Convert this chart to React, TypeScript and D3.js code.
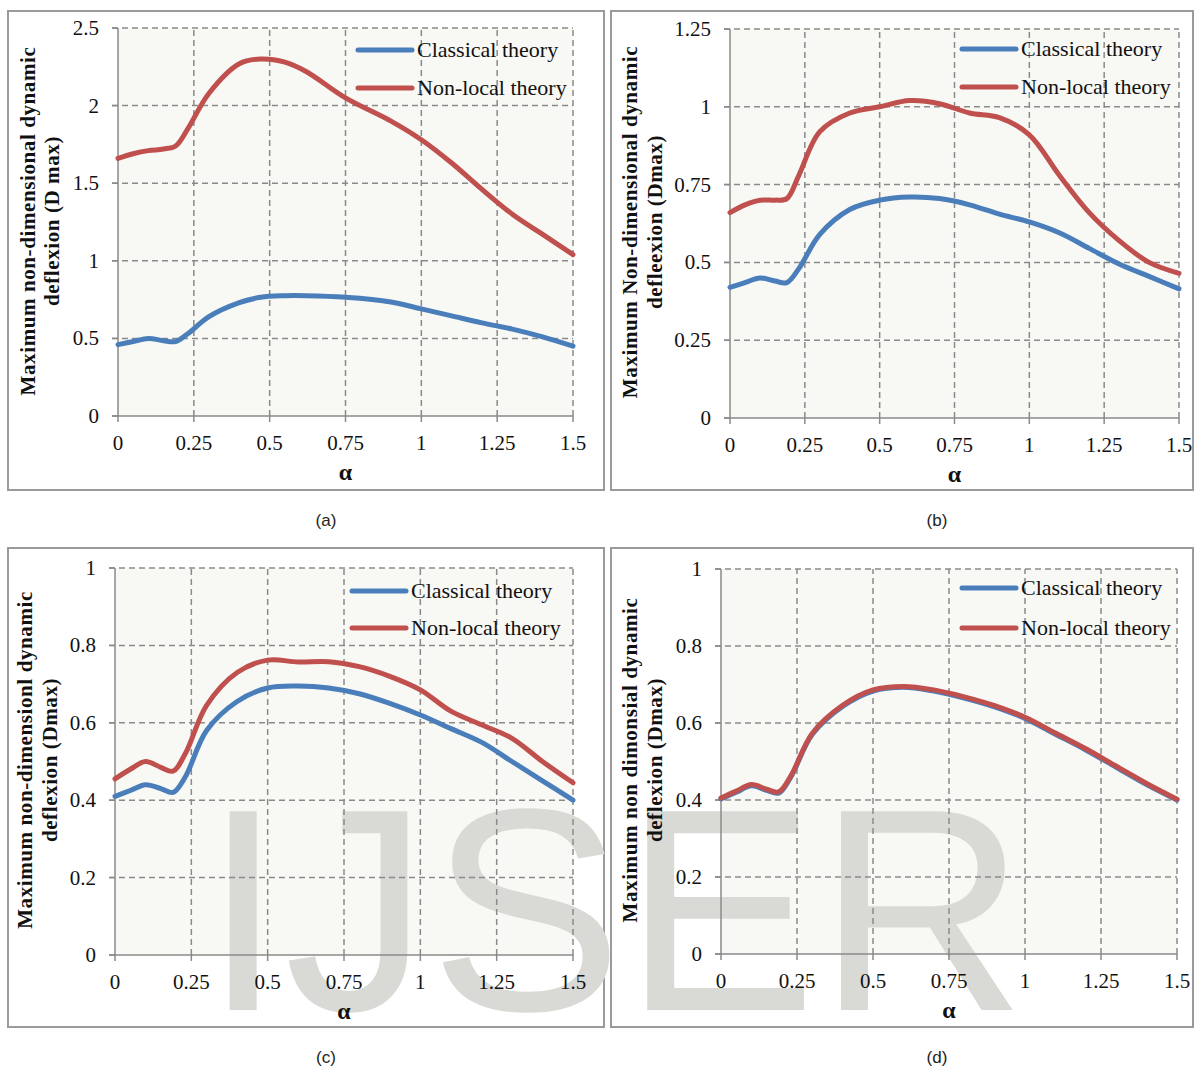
import React from "react";
import * as d3 from "d3";

// ---------------- DATA ----------------
const alphaA = [0, 0.05, 0.1, 0.15, 0.19, 0.23, 0.3, 0.4, 0.47, 0.55, 0.62, 0.75, 0.9, 1.0, 1.1, 1.2, 1.3, 1.4, 1.5];
const classicalA = [0.46, 0.48, 0.5, 0.485, 0.48, 0.53, 0.64, 0.73, 0.765, 0.775, 0.775, 0.765, 0.735, 0.69, 0.645, 0.6, 0.56, 0.51, 0.45];
const nonlocalA = [1.66, 1.69, 1.71, 1.72, 1.74, 1.85, 2.08, 2.27, 2.3, 2.28, 2.22, 2.05, 1.9, 1.78, 1.63, 1.46, 1.3, 1.17, 1.04];

const alphaB = [0, 0.05, 0.1, 0.15, 0.19, 0.23, 0.3, 0.4, 0.5, 0.6, 0.7, 0.8, 0.9, 1.0, 1.1, 1.2, 1.3, 1.4, 1.5];
const classicalB = [0.42, 0.435, 0.45, 0.44, 0.435, 0.48, 0.59, 0.67, 0.70, 0.71, 0.705, 0.685, 0.655, 0.63, 0.595, 0.545, 0.495, 0.455, 0.415];
const nonlocalB = [0.66, 0.685, 0.70, 0.7, 0.705, 0.78, 0.92, 0.98, 1.0, 1.02, 1.01, 0.98, 0.965, 0.91, 0.78, 0.66, 0.57, 0.5, 0.465];

const alphaC = [0, 0.05, 0.1, 0.15, 0.19, 0.23, 0.3, 0.4, 0.5, 0.6, 0.7, 0.8, 0.9, 1.0, 1.1, 1.2, 1.3, 1.4, 1.5];
const classicalC = [0.41, 0.425, 0.44, 0.43, 0.42, 0.46, 0.58, 0.655, 0.69, 0.695, 0.69, 0.675, 0.65, 0.62, 0.585, 0.55, 0.5, 0.45, 0.40];
const nonlocalC = [0.455, 0.48, 0.50, 0.485, 0.475, 0.52, 0.645, 0.73, 0.762, 0.757, 0.758, 0.745, 0.72, 0.685, 0.63, 0.595, 0.56, 0.5, 0.445];

const alphaD = [0, 0.05, 0.1, 0.15, 0.19, 0.23, 0.3, 0.4, 0.5, 0.6, 0.7, 0.8, 0.9, 1.0, 1.1, 1.2, 1.3, 1.4, 1.5];
const classicalD = [0.403, 0.42, 0.437, 0.425, 0.418, 0.46, 0.57, 0.643, 0.683, 0.693, 0.683, 0.665, 0.642, 0.612, 0.571, 0.53, 0.485, 0.44, 0.40];
const nonlocalD = [0.405, 0.423, 0.44, 0.428, 0.421, 0.463, 0.573, 0.646, 0.686, 0.695, 0.686, 0.668, 0.645, 0.615, 0.574, 0.533, 0.488, 0.443, 0.402];

const xTicks = [0, 0.25, 0.5, 0.75, 1, 1.25, 1.5];
const xTickLabels = ["0", "0.25", "0.5", "0.75", "1", "1.25", "1.5"];
const yTicksA = [0, 0.5, 1, 1.5, 2, 2.5];
const yTickLabelsA = ["0", "0.5", "1", "1.5", "2", "2.5"];
const yTicksB = [0, 0.25, 0.5, 0.75, 1, 1.25];
const yTickLabelsB = ["0", "0.25", "0.5", "0.75", "1", "1.25"];
const yTicksCD = [0, 0.2, 0.4, 0.6, 0.8, 1];
const yTickLabelsCD = ["0", "0.2", "0.4", "0.6", "0.8", "1"];

const seriesNames = ["Classical theory", "Non-local theory"];
const yTitlesA = ["Maximum  non-dimensional dynamic", "deflexion  (D max)"];
const yTitlesB = ["Maximum Non-dimensional dynamic", "defleexion  (Dmax)"];
const yTitlesC = ["Maximum non-dimensionl dynamic", "deflexion (Dmax)"];
const yTitlesD = ["Maximum non dimonsial dynamic", "deflexion (Dmax)"];
const captions = ["(a)", "(b)", "(c)", "(d)"];
const watermark = "IJSER";

// ---------------- STYLE ----------------
const BLUE = "#4a7ebb";
const RED = "#c0504d";
const GRID = "#8a8a8a";
const SERIF = "'Liberation Serif', 'Times New Roman', serif";
const SANS = "'Liberation Sans', Arial, sans-serif";

type Panel = {
  box: [number, number, number, number];
  plot: { x0: number; x1: number; y0: number; y1: number };
  yMax: number;
  yTicks: number[];
  yLabels: string[];
  alpha: number[];
  classical: number[];
  nonlocal: number[];
  yTitles: string[];
  titleX: [number, number];
  titleCY: number;
  legend: { x: number; y1: number; y2: number };
  caption: string;
  captionPos: [number, number];
};

const panels: Panel[] = [
  {
    box: [8, 11, 604, 490],
    plot: { x0: 118, x1: 573, y0: 416, y1: 28 },
    yMax: 2.5, yTicks: yTicksA, yLabels: yTickLabelsA,
    alpha: alphaA, classical: classicalA, nonlocal: nonlocalA,
    yTitles: yTitlesA, titleX: [28, 52], titleCY: 221,
    legend: { x: 358, y1: 50, y2: 88 },
    caption: captions[0], captionPos: [326, 526],
  },
  {
    box: [611, 11, 1193, 490],
    plot: { x0: 730, x1: 1179, y0: 418, y1: 29 },
    yMax: 1.25, yTicks: yTicksB, yLabels: yTickLabelsB,
    alpha: alphaB, classical: classicalB, nonlocal: nonlocalB,
    yTitles: yTitlesB, titleX: [630, 655], titleCY: 222,
    legend: { x: 962, y1: 49, y2: 87 },
    caption: captions[1], captionPos: [937, 526],
  },
  {
    box: [8, 548, 604, 1027],
    plot: { x0: 115, x1: 573, y0: 955, y1: 568 },
    yMax: 1, yTicks: yTicksCD, yLabels: yTickLabelsCD,
    alpha: alphaC, classical: classicalC, nonlocal: nonlocalC,
    yTitles: yTitlesC, titleX: [25, 50], titleCY: 760,
    legend: { x: 352, y1: 591, y2: 628 },
    caption: captions[2], captionPos: [326, 1063],
  },
  {
    box: [611, 548, 1193, 1027],
    plot: { x0: 721, x1: 1177, y0: 954, y1: 569 },
    yMax: 1, yTicks: yTicksCD, yLabels: yTickLabelsCD,
    alpha: alphaD, classical: classicalD, nonlocal: nonlocalD,
    yTitles: yTitlesD, titleX: [630, 655], titleCY: 760,
    legend: { x: 962, y1: 588, y2: 628 },
    caption: captions[3], captionPos: [937, 1063],
  },
];

function PanelBase({ p }: { p: Panel }) {
  const [bx0, by0, bx1, by1] = p.box;
  return (
    <g>
      <rect x={bx0} y={by0} width={bx1 - bx0} height={by1 - by0} fill="#fff" stroke="#9a9a9a" strokeWidth={2} />
      <rect x={p.plot.x0} y={p.plot.y1} width={p.plot.x1 - p.plot.x0} height={p.plot.y0 - p.plot.y1} fill="#f8f8f4" />
      <text x={p.captionPos[0]} y={p.captionPos[1]} fontFamily={SANS} fontSize={17} textAnchor="middle" fill="#222">{p.caption}</text>
    </g>
  );
}

function PanelTop({ p }: { p: Panel }) {
  const x = d3.scaleLinear().domain([0, 1.5]).range([p.plot.x0, p.plot.x1]);
  const y = d3.scaleLinear().domain([0, p.yMax]).range([p.plot.y0, p.plot.y1]);
  const line = d3
    .line<[number, number]>()
    .x((d) => x(d[0]))
    .y((d) => y(d[1]))
    .curve(d3.curveCatmullRom.alpha(0.5));
  const cPts = p.alpha.map((a, i) => [a, p.classical[i]] as [number, number]);
  const nPts = p.alpha.map((a, i) => [a, p.nonlocal[i]] as [number, number]);
  return (
    <g>
      {/* grid */}
      {p.yTicks.slice(1).map((t) => (
        <line key={"gy" + t} x1={p.plot.x0 - 6} x2={p.plot.x1} y1={y(t)} y2={y(t)} stroke={GRID} strokeWidth={1.5} strokeDasharray="6,4" />
      ))}
      {xTicks.slice(1).map((t) => (
        <line key={"gx" + t} x1={x(t)} x2={x(t)} y1={p.plot.y0} y2={p.plot.y1} stroke={GRID} strokeWidth={1.5} strokeDasharray="6,4" />
      ))}
      {/* axes */}
      <line x1={p.plot.x0} x2={p.plot.x0} y1={p.plot.y0} y2={p.plot.y1} stroke={GRID} strokeWidth={1.5} />
      <line x1={p.plot.x0 - 6} x2={p.plot.x1} y1={p.plot.y0} y2={p.plot.y0} stroke={GRID} strokeWidth={1.5} />
      {xTicks.map((t) => (
        <line key={"tx" + t} x1={x(t)} x2={x(t)} y1={p.plot.y0} y2={p.plot.y0 + 6} stroke={GRID} strokeWidth={1.5} />
      ))}
      {p.yTicks.map((t) => (
        <line key={"ty" + t} x1={p.plot.x0 - 6} x2={p.plot.x0} y1={y(t)} y2={y(t)} stroke={GRID} strokeWidth={1.5} />
      ))}
      {/* tick labels */}
      {xTicks.map((t, i) => (
        <text key={"lx" + t} x={x(t)} y={p.plot.y0 + 34} fontFamily={SERIF} fontSize={21} textAnchor="middle" fill="#111">{xTickLabels[i]}</text>
      ))}
      {p.yTicks.map((t, i) => (
        <text key={"ly" + t} x={p.plot.x0 - 19} y={y(t) + 7} fontFamily={SERIF} fontSize={21} textAnchor="end" fill="#111">{p.yLabels[i]}</text>
      ))}
      {/* series */}
      <path d={line(cPts) || ""} fill="none" stroke={BLUE} strokeWidth={5} strokeLinejoin="round" strokeLinecap="round" />
      <path d={line(nPts) || ""} fill="none" stroke={RED} strokeWidth={5} strokeLinejoin="round" strokeLinecap="round" />
      {/* legend */}
      <line x1={p.legend.x} x2={p.legend.x + 54} y1={p.legend.y1} y2={p.legend.y1} stroke={BLUE} strokeWidth={5} strokeLinecap="round" />
      <text x={p.legend.x + 59} y={p.legend.y1 + 7} fontFamily={SERIF} fontSize={22} fill="#111">{seriesNames[0]}</text>
      <line x1={p.legend.x} x2={p.legend.x + 54} y1={p.legend.y2} y2={p.legend.y2} stroke={RED} strokeWidth={5} strokeLinecap="round" />
      <text x={p.legend.x + 59} y={p.legend.y2 + 7} fontFamily={SERIF} fontSize={22} fill="#111">{seriesNames[1]}</text>
      {/* axis titles */}
      <text x={(p.plot.x0 + p.plot.x1) / 2} y={p.plot.y0 + 64} fontFamily={SERIF} fontSize={24} fontWeight="bold" textAnchor="middle" fill="#111">α</text>
      {p.yTitles.map((s, i) => (
        <text key={"yt" + i} transform={`translate(${p.titleX[i] + 7},${p.titleCY}) rotate(-90)`} fontFamily={SERIF} fontSize={21} fontWeight="bold" letterSpacing={0.6} textAnchor="middle" fill="#111">{s}</text>
      ))}
    </g>
  );
}

export default function App() {
  return (
    <svg width={1195} height={1068} style={{ position: "absolute", left: 0, top: 0 }}>
      <rect width={1195} height={1068} fill="#fff" />
      {panels.map((p, i) => <PanelBase key={"b" + i} p={p} />)}
      <text x={203} y={1010} fontFamily={SANS} fontSize={289} letterSpacing={1} fill="#d9d9d6">{watermark}</text>
      {panels.map((p, i) => <PanelTop key={"t" + i} p={p} />)}
    </svg>
  );
}
